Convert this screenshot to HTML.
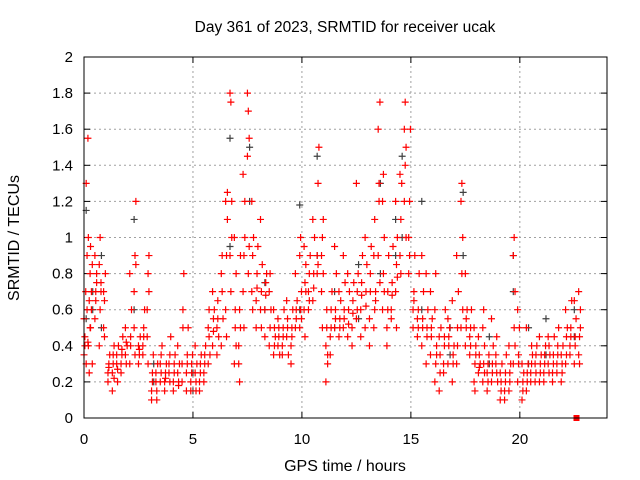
<!DOCTYPE html>
<html><head><meta charset="utf-8"><style>
body{margin:0;background:#fff}
svg{display:block;font-family:"Liberation Sans",sans-serif}
</style></head><body>
<svg id="chart" width="640" height="480" xmlns="http://www.w3.org/2000/svg">
<rect width="640" height="480" fill="#fff"/>
<text x="345" y="32" font-size="15.5" text-anchor="middle">Day 361 of 2023, SRMTID for receiver ucak</text>
<text transform="translate(19,238) rotate(-90)" font-size="16" text-anchor="middle">SRMTID / TECUs</text>
<text x="345" y="471" font-size="16" text-anchor="middle">GPS time / hours</text>
<g id="grid"></g>
<g id="ticks"></g>
<g id="gray"></g>
<g id="red"></g>
<rect x="84" y="57" width="523" height="361" fill="none" stroke="#000" stroke-width="1"/>
</svg>
<script>
const xTicks=[0,5,10,15,20];
const yTicks=[0,0.2,0.4,0.6,0.8,1,1.2,1.4,1.6,1.8,2];
const yTickLabels=["0","0.2","0.4","0.6","0.8","1","1.2","1.4","1.6","1.8","2"];
const redTimes=[0.0,0.1,0.2,0.3,0.5,0.7,0.9,1.1,1.3,1.5,1.7,1.9,2.1,2.3,2.5,2.7,2.9,3.1,3.3,3.5,3.7,3.9,4.1,4.3,4.5,4.7,4.9,5.1,5.3,5.5,5.7,5.9,6.1,6.3,6.5,6.7,6.9,7.1,7.3,7.5,7.7,7.9,8.1,8.3,8.5,8.7,8.9,9.1,9.3,9.5,9.7,9.9,10.1,10.3,10.5,10.7,10.9,11.1,11.3,11.5,11.7,11.9,12.1,12.3,12.5,12.7,12.9,13.1,13.3,13.5,13.7,13.9,14.1,14.3,14.5,14.7,14.9,15.1,15.3,15.5,15.7,15.9,16.1,16.3,16.5,16.7,16.9,17.1,17.3,17.5,17.7,17.9,18.1,18.3,18.5,18.7,18.9,19.1,19.3,19.5,19.7,19.9,20.1,20.3,20.5,20.7,20.9,21.1,21.3,21.5,21.7,21.9,22.1,22.3,22.5,22.7];
const redValues=[
[0.35,0.45,0.7,0.55,0.4],[0.3,0.6,1.55,1.3,0.9,0.42],[0.4,0.65,0.8,1.0,0.25,0.5],[0.5,0.7,0.85,0.95,0.6,0.3],[0.55,0.7,0.8,0.9,0.65,0.75],[0.4,0.6,0.75,0.85,1.0,0.7],[0.5,0.65,0.8,0.7,0.45],
[0.25,0.3,0.35,0.2,0.28],[0.25,0.3,0.4,0.15,0.35,0.22],[0.3,0.2,0.4,0.35,0.27],[0.3,0.35,0.45,0.25,0.38],[0.35,0.3,0.4,0.5,0.42],[0.3,0.45,0.6,0.8,0.4],[0.7,0.9,1.2,0.5,0.35,0.85],
[0.3,0.35,0.45,0.4,0.38],[0.4,0.5,0.6,0.35,0.45],[0.6,0.8,0.9,0.45,0.3,0.7],[0.15,0.25,0.35,0.1,0.2],[0.2,0.1,0.3,0.25,0.15],[0.2,0.35,0.4,0.3,0.25],[0.2,0.25,0.3,0.15,0.22],[0.3,0.2,0.45,0.25,0.35],
[0.2,0.3,0.35,0.15,0.25],[0.25,0.2,0.3,0.4,0.18],[0.3,0.6,0.8,0.2,0.5],[0.25,0.35,0.5,0.15,0.3],[0.2,0.3,0.35,0.15,0.25],[0.25,0.15,0.3,0.4,0.2],[0.2,0.3,0.35,0.15,0.25],[0.25,0.3,0.4,0.2,0.35],
[0.5,0.6,0.35,0.3,0.45],[0.4,0.55,0.6,0.7,0.48],[0.5,0.65,0.45,0.35,0.55],[0.8,0.9,0.55,0.4,0.7],[0.6,0.9,1.1,1.2,0.45,1.25],[1.8,1.75,1.2,0.9,0.7,1.0],[0.3,0.5,0.8,1.0,0.6,0.4],
[0.4,0.6,0.9,0.3,0.2,0.5],[0.7,0.9,1.2,1.35,0.5,1.0],[1.8,1.7,1.55,1.45,0.8,0.95],[0.7,0.9,1.0,1.2,0.6],[0.65,0.8,0.95,0.5,0.72],[0.6,0.7,0.85,1.1,0.5],[0.6,0.75,0.8,0.45,0.68],[0.4,0.5,0.6,0.7,0.8],
[0.35,0.5,0.45,0.6,0.4],[0.4,0.5,0.35,0.55,0.45],[0.4,0.5,0.6,0.35,0.45],[0.45,0.55,0.35,0.65,0.5],[0.4,0.5,0.6,0.3,0.45],[0.5,0.55,0.65,0.8,0.6],[0.5,0.6,0.7,0.9,1.0,0.55],
[0.6,0.75,0.85,0.95,0.45,0.7],[0.7,0.8,0.9,0.6,0.65],[0.65,0.8,1.0,1.1,0.72],[0.8,1.3,1.5,0.9,0.85],[0.9,1.0,1.1,0.7,0.5,0.8],[0.4,0.5,0.3,0.2,0.6,0.35],[0.45,0.6,0.7,0.35,0.5],[0.5,0.6,0.8,0.95,0.55],
[0.45,0.55,0.65,0.7,0.5],[0.5,0.6,0.75,0.9,0.55],[0.45,0.6,0.7,0.8,0.52],[0.5,0.65,0.75,0.4,0.58],[0.55,0.6,0.8,1.3,0.7],[0.6,0.75,0.9,0.45,0.68],[0.5,0.7,0.85,1.0,0.62],[0.55,0.8,0.95,0.4,0.7],
[0.5,0.6,0.7,0.9,1.1,0.65],[0.9,1.3,1.75,1.6,1.2,0.75],[0.6,0.8,1.0,1.2,1.35,0.7],[0.5,0.7,0.9,0.4,0.6],[0.6,0.75,0.95,0.55,0.68],[0.7,0.85,1.0,1.2,0.5,0.78],[0.9,1.1,1.3,1.35,0.8],
[1.2,1.4,1.5,1.6,1.75,1.0],[1.0,1.2,1.6,0.8,0.9],[0.6,0.7,0.9,0.5,0.65],[0.55,0.6,0.8,0.45,0.5],[0.4,0.55,0.7,0.9,0.5],[0.3,0.5,0.6,0.8,0.45],[0.35,0.45,0.55,0.7,0.5],[0.2,0.3,0.4,0.6,0.8,0.35],
[0.15,0.35,0.5,0.45,0.25],[0.25,0.4,0.6,0.3,0.45],[0.3,0.45,0.5,0.55,0.4],[0.2,0.35,0.4,0.65,0.3],[0.3,0.5,0.7,0.9,0.4],[0.5,0.8,1.0,1.2,1.3,0.6],[0.4,0.55,0.6,0.8,0.5],[0.35,0.5,0.6,0.45,0.4],
[0.2,0.3,0.4,0.5,0.15,0.35],[0.25,0.35,0.3,0.45,0.28],[0.2,0.3,0.4,0.5,0.6,0.25],[0.15,0.3,0.35,0.25,0.2],[0.2,0.25,0.4,0.55,0.3],[0.3,0.45,0.2,0.35,0.25],[0.1,0.2,0.3,0.25,0.15],[0.1,0.2,0.35,0.15,0.25],
[0.15,0.25,0.3,0.4,0.2],[0.3,0.5,0.7,0.9,1.0,0.4],[0.2,0.35,0.5,0.6,0.3],[0.1,0.15,0.25,0.3,0.2],[0.15,0.2,0.3,0.5,0.25],[0.2,0.3,0.35,0.25,0.4],[0.2,0.35,0.4,0.3,0.25],[0.2,0.3,0.35,0.45,0.25],
[0.25,0.35,0.4,0.2,0.3],[0.3,0.4,0.35,0.45,0.25],[0.25,0.35,0.45,0.2,0.3],[0.3,0.4,0.5,0.25,0.35],[0.2,0.3,0.4,0.35,0.25],[0.3,0.45,0.5,0.6,0.35],[0.4,0.5,0.65,0.35,0.45],[0.3,0.45,0.55,0.65,0.4],[0.35,0.45,0.6,0.7,0.3,0.5]];
const grayTimes=[0.1,0.4,0.8,2.3,3.2,5.0,6.7,7.6,8.3,9.9,10.7,11.5,12.6,13.6,14.3,14.6,15.5,16.8,17.4,18.6,19.7,20.4,21.2,22.5];
const grayValues=[[1.15,0.55],[0.6,0.7],[0.5,0.9],[1.1,0.6],[0.2,0.3],[0.15,0.25],[1.55,0.95],[1.5,1.2],[0.6,0.75],[1.18,0.6],[1.45,0.9],[0.5,0.7],[0.85,0.55],[1.3,0.8],[1.1,0.9],[1.45,1.0],[1.2,0.6],[0.5,0.35],[1.25,0.9],[0.3,0.45],[0.9,0.7],[0.3,0.5],[0.35,0.55],[0.45,0.6]];
const squareTimes=[22.6];
const squareValues=[0.0];

const X0=84,X1=607,Y0=418,Y1=57,XMAX=24,YMAX=2;
const sx=v=>X0+(X1-X0)*v/XMAX;
const sy=v=>Y0-(Y0-Y1)*v/YMAX;
const NS="http://www.w3.org/2000/svg";
function mk(tag,attrs,parent){const e=document.createElementNS(NS,tag);for(const k in attrs)e.setAttribute(k,attrs[k]);parent.appendChild(e);return e;}
const grid=document.getElementById('grid'),ticks=document.getElementById('ticks');
yTicks.forEach((v,i)=>{const y=sy(v);
 if(i>0&&i<yTicks.length-1){const l=mk('line',{x1:X0,x2:X1,y1:y,y2:y,stroke:'#a0a0a0','stroke-dasharray':'2,3'},grid);}
 mk('line',{x1:X0,x2:X0+6,y1:y,y2:y,stroke:'#000'},ticks);mk('line',{x1:X1,x2:X1-6,y1:y,y2:y,stroke:'#000'},ticks);
 const t=mk('text',{x:X0-11,y:y+5,'font-size':15,'text-anchor':'end'},ticks);t.textContent=yTickLabels[i];
 });
xTicks.forEach(v=>{const x=sx(v);
 if(v>0){const l=mk('line',{x1:x,x2:x,y1:Y0,y2:Y1,stroke:'#a0a0a0','stroke-dasharray':'2,3'},grid);}
 mk('line',{x1:x,x2:x,y1:Y0,y2:Y0-6,stroke:'#000'},ticks);mk('line',{x1:x,x2:x,y1:Y1,y2:Y1+6,stroke:'#000'},ticks);
 const t=mk('text',{x:x,y:Y0+26,'font-size':15,'text-anchor':'middle'},ticks);t.textContent=String(v);
 });
function plus(g,t,v,c){const x=sx(t),y=sy(v);
 const p=mk('path',{d:`M${x-3.5},${y}h7M${x},${y-3.5}v7`,stroke:c,'stroke-width':1.2,fill:'none'},g);
 }
const gg=document.getElementById('gray'),rg=document.getElementById('red');
grayTimes.forEach((t,i)=>grayValues[i].forEach(v=>plus(gg,t,v,'#404040')));
redTimes.forEach((t,i)=>redValues[i].forEach((v,j)=>{plus(rg,t+(j%3)*0.04,v,'#ff0000');}));
squareTimes.forEach((t,i)=>{const r=mk('rect',{x:sx(t)-3,y:sy(squareValues[i])-3,width:6,height:6,fill:'#ff0000'},rg);
 });
</script>
</body></html>
